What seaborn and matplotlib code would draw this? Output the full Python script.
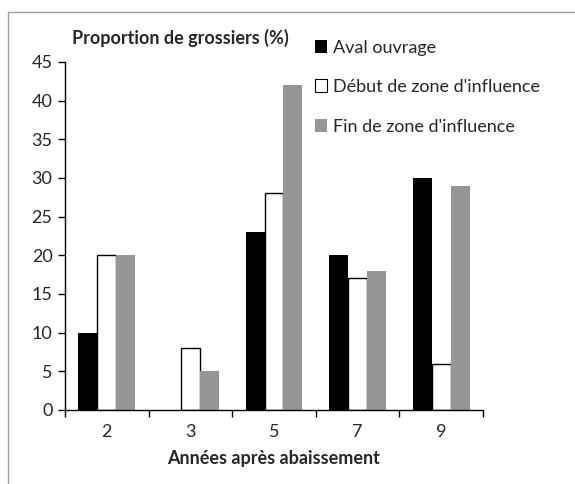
import matplotlib
matplotlib.use("Agg")
from matplotlib import pyplot as plt
from matplotlib.patches import Rectangle
import seaborn as sns
import pandas as pd

years = ['2', '3', '5', '7', '9']
series = ['Aval ouvrage', 'Début de zone d\'influence', 'Fin de zone d\'influence']
aval = [10, 0, 23, 20, 30]
debut = [20, 8, 28, 17, 6]
fin = [20, 5, 42, 18, 29]
colors = ['#000000', '#ffffff', '#969696']

df = pd.DataFrame({
    'annee': years * 3,
    'serie': [series[0]] * 5 + [series[1]] * 5 + [series[2]] * 5,
    'valeur': aval + debut + fin,
})

sns.set_style('white')
plt.rcParams['font.family'] = ['Lato', 'DejaVu Sans']

fig = plt.figure(figsize=(5.75, 4.84), dpi=100)
ax = fig.add_axes([0.113, 0.153, 0.727, 0.719])
sns.barplot(data=df, x='annee', y='valeur', hue='serie', palette=colors,
            width=0.68, ax=ax, saturation=1, legend=True)

# only the white series gets a black outline
for bar in ax.containers[1]:
    bar.set_edgecolor('black')
    bar.set_linewidth(1)
for c in (ax.containers[0], ax.containers[2]):
    for bar in c:
        bar.set_edgecolor('none')

ax.set_ylim(0, 45)
ax.set_xlim(-0.5, 4.5)
ax.set_yticks(range(0, 46, 5))
ax.tick_params(axis='y', labelsize=13, length=5, width=1, color='black', left=True, pad=4)
ax.tick_params(axis='x', which='major', length=0, labelsize=13, pad=10)
ax.set_xticks([i - 0.5 for i in range(6)], minor=True)
ax.tick_params(axis='x', which='minor', length=5, width=1, color='black', bottom=True)
for s in ['top', 'right']:
    ax.spines[s].set_visible(False)
for s in ['left', 'bottom']:
    ax.spines[s].set_color('black')
    ax.spines[s].set_linewidth(1)

ax.set_ylabel('')
ax.set_xlabel('Années après abaissement', fontsize=13, fontweight='bold', labelpad=7)
fig.text(0.125, 0.922, 'Proportion de grossiers (%)', fontsize=13, fontweight='bold',
         va='center', ha='left')

leg = ax.legend(loc='upper left', bbox_to_anchor=(0.58, 1.085), frameon=False,
                fontsize=13, handlelength=0.7, handleheight=0.7,
                handletextpad=0.3, labelspacing=1.3, borderaxespad=0)
for h, c in zip(leg.legend_handles, colors):
    h.set_edgecolor('black' if c == '#ffffff' else 'none')
    h.set_linewidth(0.8)

fig.patches.append(Rectangle((8 / 575, -0.01), 1.0, 1 - 12 / 484 + 0.01,
                             transform=fig.transFigure, fill=False,
                             edgecolor='#a0a0a0', linewidth=1))

fig.savefig('out.png', dpi=100)
